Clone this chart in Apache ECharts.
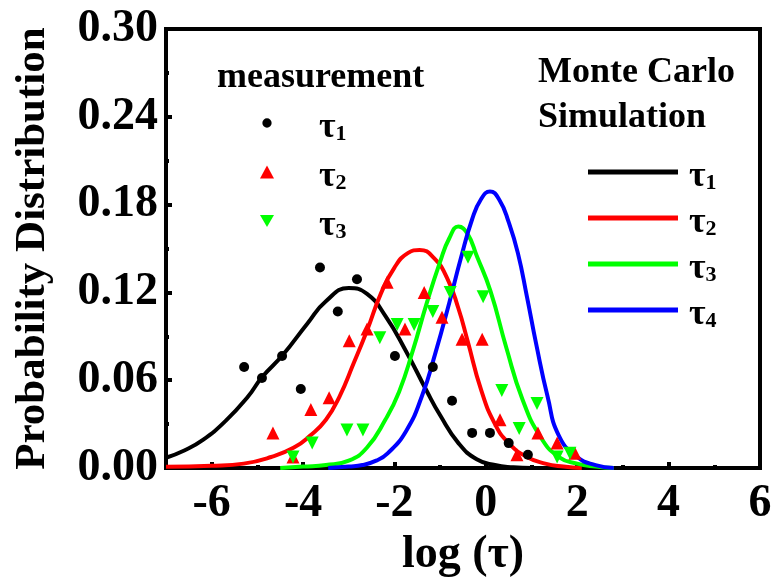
<!DOCTYPE html>
<html><head><meta charset="utf-8">
<script src="https://cdn.jsdelivr.net/npm/echarts@6/dist/echarts.min.js"></script>
<style>html,body{margin:0;padding:0;background:#fff}#c{width:777px;height:578px}</style>
</head><body><div id="c"></div>
<script>
// ---- data ----
const xMajorTicks = [-6, -4, -2, 0, 2, 4, 6];
const xMinorTicks = [-5, -3, -1, 1, 3, 5];

const measTau1 = [[-5.29,0.069],[-4.9,0.0615],[-4.46,0.0765],[-4.05,0.054],[-3.63,0.137],[-3.24,0.107],[-2.82,0.129],[-1.99,0.0765],[-1.16,0.069],[-0.74,0.046],[-0.3,0.024],[0.09,0.024],[0.5,0.017],[0.92,0.009]];
const measTau2 = [[-4.66,0.024],[-4.22,0.0075],[-3.83,0.040],[-3.43,0.048],[-2.99,0.087],[-2.6,0.095],[-2.16,0.127],[-1.77,0.095],[-1.35,0.12],[-0.96,0.103],[-0.52,0.088],[-0.08,0.088],[0.31,0.033],[0.68,0.009],[1.14,0.024],[1.56,0.017],[1.95,0.010]];
const measTau3 = [[-4.22,0.0075],[-3.8,0.017],[-3.04,0.026],[-2.69,0.026],[-2.32,0.089],[-1.94,0.098],[-1.57,0.098],[-1.16,0.107],[-0.78,0.12],[-0.39,0.144],[-0.06,0.117],[0.35,0.053],[0.73,0.027],[1.12,0.044],[1.56,0.0075],[1.84,0.010]];

const simTau1 = [[-7,0.007],[-6.6,0.012],[-6.2,0.019],[-5.7,0.032],[-5.2,0.049],[-4.9,0.062],[-4.45,0.077],[-3.9,0.099],[-3.5,0.114],[-3.0,0.123],[-2.6,0.119],[-2.2,0.104],[-1.75,0.080],[-1.3,0.053],[-1.0,0.036],[-0.6,0.017],[-0.2,0.006],[0.2,0.002],[0.6,0.0005],[1.0,0]];
const simTau2 = [[-7,0.0008],[-6,0.0015],[-5.3,0.003],[-4.7,0.0075],[-4.2,0.014],[-3.85,0.022],[-3.5,0.033],[-3.2,0.049],[-2.9,0.071],[-2.6,0.094],[-2.3,0.119],[-2.0,0.137],[-1.7,0.147],[-1.45,0.149],[-1.15,0.144],[-0.85,0.13],[-0.6,0.109],[-0.4,0.087],[-0.1,0.053],[0.2,0.03],[0.5,0.017],[0.9,0.0075],[1.3,0.003],[1.7,0.001],[2.1,0]];
const simTau3 = [[-4.5,0],[-4.0,0.001],[-3.5,0.002],[-3.0,0.005],[-2.6,0.014],[-2.2,0.033],[-1.9,0.052],[-1.6,0.080],[-1.3,0.112],[-1.0,0.141],[-0.8,0.157],[-0.6,0.165],[-0.4,0.160],[-0.2,0.145],[0.1,0.121],[0.45,0.082],[0.8,0.047],[1.2,0.021],[1.6,0.0075],[2.0,0.003],[2.4,0.001],[2.8,0]];
const simTau4 = [[-3.45,0],[-3.0,0.001],[-2.7,0.002],[-2.4,0.005],[-2.15,0.010],[-1.75,0.025],[-1.4,0.049],[-1.1,0.079],[-0.8,0.113],[-0.55,0.143],[-0.3,0.170],[-0.1,0.184],[0.09,0.189],[0.3,0.183],[0.5,0.168],[0.7,0.147],[0.9,0.117],[1.1,0.085],[1.35,0.049],[1.6,0.022],[2.0,0.0075],[2.4,0.002],[2.8,0]];

const measNames = ['m1','m2','m3'];
const simNames = ['s1','s2','s3','s4'];
const subscripts = {m1:'1',m2:'2',m3:'3',s1:'1',s2:'2',s3:'3',s4:'4'};

// ---- chart ----
const FONT = '"Liberation Serif", "Times New Roman", serif';
const chart = echarts.init(document.getElementById('c'));
const richTau = {
  gap: {width: 6},
  gapM: {width: 40},
  t: {fontFamily: FONT, fontWeight: 'bold', fontSize: 36, lineHeight: 30, padding: [10,0,0,0], color: '#000'},
  s: {fontFamily: FONT, fontWeight: 'bold', fontSize: 22, lineHeight: 20, padding: [22,0,0,0], color: '#000'}
};
function lineSeries(name, data, color) {
  return {name, type: 'line', data, smooth: 0.5, showSymbol: false, symbol: 'none',
    lineStyle: {color, width: 4}, itemStyle: {color}, z: 3, clip: true};
}
function scatterSeries(name, data, color, symbol, size, rot) {
  return {name, type: 'scatter', data, symbol, symbolSize: size, symbolRotate: rot,
    itemStyle: {color, opacity: 1}, z: 4};
}
const dotPath = 'path://M0,0M14,14M7,2A5,5,0,1,1,6.99,2Z';
const downTri = 'path://M0,0L14,0L7,12Z';

chart.setOption({
  animation: false,
  backgroundColor: '#fff',
  grid: {left: 166, right: 17, top: 29, bottom: 110, show: true, borderColor: '#000', borderWidth: 4,
    containLabel: false, outerBoundsMode: 'none'},
  xAxis: [{
    type: 'value', min: -7, max: 6,
    axisLine: {show: true, onZero: false, lineStyle: {color: '#000', width: 4}},
    axisTick: {show: true, inside: true, length: 6, lineStyle: {color: '#000', width: 4}, customValues: xMajorTicks},
    axisLabel: {show: true, customValues: xMajorTicks, margin: 13, color: '#000', fontFamily: FONT, fontWeight: 'bold', fontSize: 46,
      formatter: v => String(v)},
    splitLine: {show: false},
    name: 'log (τ)', nameLocation: 'middle', nameGap: 50,
    nameTextStyle: {color: '#000', fontFamily: FONT, fontWeight: 'bold', fontSize: 46}
  }, {
    type: 'value', min: -7, max: 6, position: 'bottom',
    axisLine: {show: false, onZero: false},
    axisTick: {show: true, inside: true, length: 3, lineStyle: {color: '#000', width: 4}, customValues: xMinorTicks},
    axisLabel: {show: false}, splitLine: {show: false}
  }],
  yAxis: {
    type: 'value', min: 0, max: 0.3, interval: 0.06,
    axisLine: {show: true, onZero: false, lineStyle: {color: '#000', width: 4}},
    axisTick: {show: true, inside: true, length: 6, lineStyle: {color: '#000', width: 4}},
    minorTick: {show: true, splitNumber: 2, length: 3, lineStyle: {color: '#000', width: 4}},
    axisLabel: {margin: 8, color: '#000', fontFamily: FONT, fontWeight: 'bold', fontSize: 46,
      formatter: v => v.toFixed(2)},
    splitLine: {show: false},
    name: 'Probability Distribution', nameLocation: 'middle', nameGap: 112, nameRotate: 90,
    nameTextStyle: {color: '#000', fontFamily: FONT, fontWeight: 'bold', fontSize: 43}
  },
  legend: [{
    data: [{name: 'm1', icon: dotPath}, {name: 'm2'}, {name: 'm3', icon: downTri}],
    orient: 'vertical', left: 260, top: 100, padding: 0, itemGap: 3,
    itemWidth: 14, itemHeight: 13, selectedMode: false,
    formatter: n => '{gapM|}{t|τ}{s|' + subscripts[n] + '}',
    textStyle: {rich: richTau}
  }, {
    data: simNames, orient: 'vertical', left: 588, top: 149, padding: 0, itemGap: 0,
    itemWidth: 90, itemHeight: 5, icon: 'rect', selectedMode: false,
    formatter: n => '{gap|}{t|τ}{s|' + subscripts[n] + '}',
    textStyle: {rich: richTau}
  }],
  graphic: [
    {type: 'text', left: 217, top: 60, style: {text: 'measurement', font: 'bold 36px ' + FONT, fill: '#000'}},
    {type: 'text', left: 538, top: 55, style: {text: 'Monte Carlo', font: 'bold 36px ' + FONT, fill: '#000'}},
    {type: 'text', left: 538, top: 100, style: {text: 'Simulation', font: 'bold 36px ' + FONT, fill: '#000'}}
  ],
  series: [
    lineSeries('s1', simTau1, '#000000'),
    lineSeries('s2', simTau2, '#ff0000'),
    lineSeries('s3', simTau3, '#00ff00'),
    lineSeries('s4', simTau4, '#0000ff'),
    scatterSeries('m1', measTau1, '#000000', 'circle', 10, 0),
    scatterSeries('m2', measTau2, '#ff0000', 'triangle', 13, 0),
    scatterSeries('m3', measTau3, '#00ff00', 'triangle', 13, 180)
  ]
});
</script>
</body></html>
